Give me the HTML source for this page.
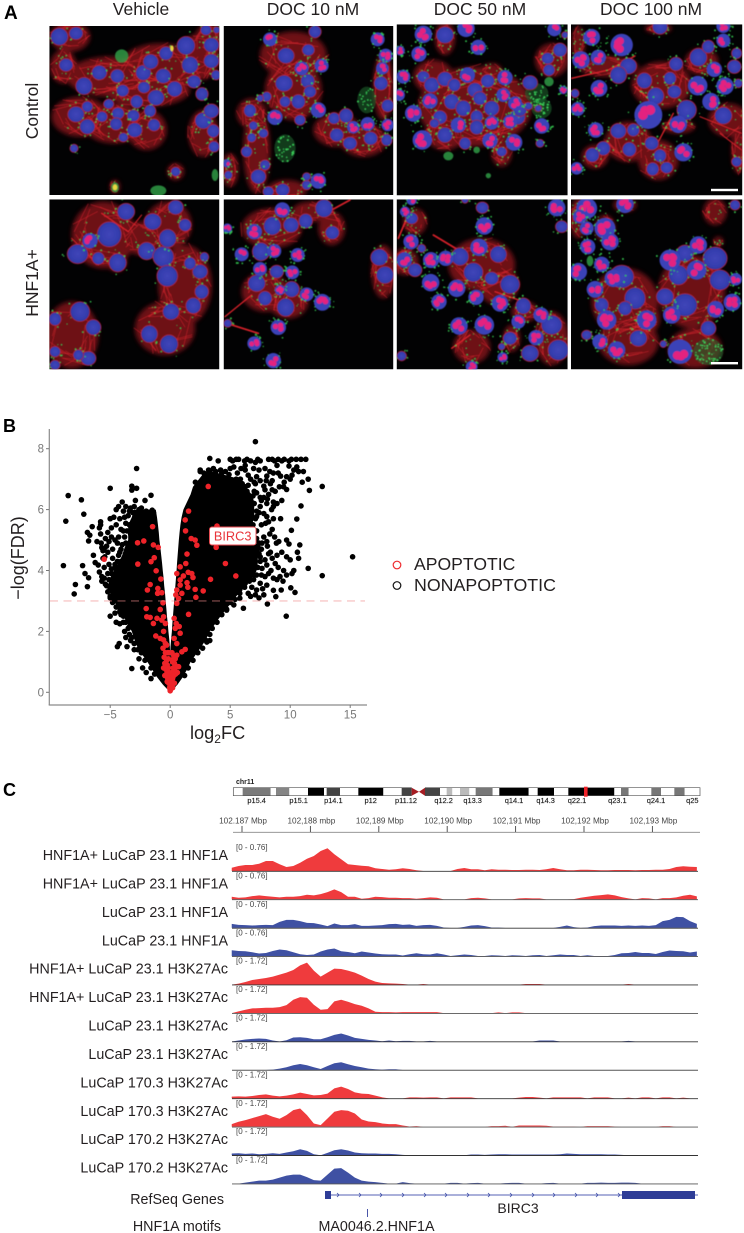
<!DOCTYPE html>
<html lang="en">
<head>
<meta charset="utf-8">
<title>HNF1A micrographs, volcano plot and genome tracks</title>
<style>
html,body{margin:0;padding:0;background:#fff;}
svg{display:block;font-family:"Liberation Sans",Arial,sans-serif;}
</style>
</head>
<body>
<svg id="fig" xmlns="http://www.w3.org/2000/svg" width="744" height="1233" viewBox="0 0 744 1233">
  <defs>
    <filter id="blurCyto" x="-30%" y="-30%" width="160%" height="160%"><feGaussianBlur stdDeviation="7"/></filter>
    <filter id="blurSoft" x="-5%" y="-5%" width="110%" height="110%"><feGaussianBlur stdDeviation="1.5"/></filter>
    <radialGradient id="nucleusFill"><stop offset="0" stop-color="#4045b8"/><stop offset="0.75" stop-color="#343dae"/><stop offset="1" stop-color="#2c3498"/></radialGradient>
  </defs>

  <text x="4" y="19" font-size="19" font-weight="bold" fill="#000">A</text>
  <text x="141" y="15" font-size="17.5" text-anchor="middle" fill="#231f20">Vehicle</text>
  <text x="313" y="15" font-size="17.5" text-anchor="middle" fill="#231f20">DOC 10 nM</text>
  <text x="480" y="15" font-size="17.5" text-anchor="middle" fill="#231f20">DOC 50 nM</text>
  <text x="651" y="15" font-size="17.5" text-anchor="middle" fill="#231f20">DOC 100 nM</text>
  <text transform="translate(38,111) rotate(-90)" font-size="17.5" text-anchor="middle" fill="#231f20">Control</text>
  <text transform="translate(38,283) rotate(-90)" font-size="17.5" text-anchor="middle" fill="#231f20">HNF1A+</text>
  <g id="micrographs"></g>

  <text x="3" y="432" font-size="18" font-weight="bold" fill="#000">B</text>
  <g id="volcano"></g>
  <text x="190" y="739" font-size="18.2" fill="#231f20">log<tspan font-size="12" dy="4">2</tspan><tspan dy="-4">FC</tspan></text>
  <text transform="translate(24,558) rotate(-90)" font-size="18" text-anchor="middle" fill="#231f20">&#8722;log(FDR)</text>
  <g>
    <circle cx="397" cy="565" r="3.8" fill="none" stroke="#ee2a2e" stroke-width="1.2"/>
    <text x="414" y="570" font-size="17.6" fill="#231f20">APOPTOTIC</text>
    <circle cx="397" cy="585.5" r="3.8" fill="none" stroke="#111" stroke-width="1.2"/>
    <text x="414" y="591" font-size="17.8" fill="#231f20">NONAPOPTOTIC</text>
  </g>

  <text x="3" y="796" font-size="18" font-weight="bold" fill="#000">C</text>
  <g id="ideogram"></g>
  <g id="ruler"></g>
  <g id="tracks"></g>
  <g>
    <text x="224" y="1204" font-size="14.3" text-anchor="end" fill="#231f20">RefSeq Genes</text>
    <line x1="325" y1="1195" x2="698" y2="1195" stroke="#5562b4" stroke-width="1"/>
    <rect x="325" y="1191" width="6" height="8" fill="#2e3d97"/>
    <rect x="622" y="1191" width="73" height="8" fill="#2e3d97"/>
    <g id="chevrons"></g>
    <text x="518" y="1213" font-size="14" text-anchor="middle" fill="#231f20">BIRC3</text>
  </g>
  <g>
    <text x="221" y="1231" font-size="14.3" text-anchor="end" fill="#231f20">HNF1A motifs</text>
    <line x1="367.5" y1="1209" x2="367.5" y2="1217" stroke="#4a55a8" stroke-width="1"/>
    <text x="376.5" y="1231" font-size="14.3" text-anchor="middle" fill="#231f20">MA0046.2.HNF1A</text>
  </g>
</svg>

<script>
/* ---------- Panel B chart values (log2FC, -log FDR) ---------- */
const xTickValues = [-5, 0, 5, 10, 15];
const yTickValues = [0, 2, 4, 6, 8];
const fdrThreshold = 3;

/* Saturated overplot core of the volcano: the log2FC limits of the solid black mass at each FDR level */
const leftLobeFdr   = [0,.25,.5,.75,1,1.25,1.5,1.75,2,2.25,2.5,2.75,3,3.25,3.5,3.75,4,4.25,4.5,4.75,5,5.25,5.5,5.75,6];
const leftLobeOuter = [0,-.6,-1.1,-1.5,-1.9,-2.35,-2.75,-3,-3.2,-3.55,-3.9,-4.3,-4.7,-5,-5.2,-5,-4.7,-4.3,-4,-3.8,-3.5,-3.5,-3.5,-3.2,-3];
const leftLobeInner = [0,0,0,0,0,0,-.03,-.08,-.15,-.2,-.27,-.32,-.38,-.43,-.5,-.55,-.62,-.68,-.75,-.82,-.9,-.95,-1.02,-1.1,-1.2];
const rightLobeFdr   = [0,.25,.5,.75,1,1.25,1.5,1.75,2,2.25,2.5,2.75,3,3.25,3.5,3.75,4,4.25,4.5,4.75,5,5.25,5.5,5.75,6,6.25,6.5,6.75,7,7.25];
const rightLobeOuter = [0,.6,1.05,1.4,1.7,2.15,2.6,3,3.3,3.75,4.2,4.7,5.2,5.7,6.2,6.8,7.2,7.3,7.3,7.2,7,6.8,6.8,7,7,7,6.8,6.2,5.8,3.5];
const rightLobeInner = [0,0,0,0,0,0,.03,.08,.14,.18,.23,.28,.33,.38,.43,.48,.53,.57,.62,.67,.72,.78,.85,.95,1.1,1.4,1.7,1.9,2.4,2.9];

const nonApoptoticLeft = [[-8.9,4.16],[-8.5,6.46],[-8.7,5.62],[-7.9,3.54],[-8,3.23],[-7.4,6.32],[-7.2,5.85],[-7.3,4.16],[-7.1,3.9],[-6.8,3.76],[-6.9,3.47],[-6.5,5.44],[-6.9,5.25],[-6.7,5.16],[-6.8,4.97],[-6.4,4.5],[-6.25,4.26],[-6,4.18],[-5.8,5.5],[-5.8,5.6],[-5.9,5.4],[-6.1,4.95],[-5.8,5.2],[-5.4,5.05],[-5.7,4.75],[-5.5,4.72],[-5.3,4.8],[-5.6,4.65],[-5.2,4.6],[-5.6,4.4],[-5.7,3.8],[-5.7,3.65],[-5.2,3.9],[-5.1,4.2],[-4.8,4.4],[-4.9,3.9],[-5.3,3.5],[-5,6.7],[-5,5.7],[-4.9,5.4],[-4.7,5.75],[-4.5,5.5],[-4.3,6.1],[-4,6.25],[-4.2,5.7],[-3.9,5.95],[-3.7,6.1],[-3.5,5.8],[-3.2,6.77],[-3.2,6.64],[-2.8,6.7],[-2.8,7.35],[-2.9,6.3],[-2.1,6.3],[-1.6,6.47],[-3.2,.78],[-5,2.5],[-4.4,1.5],[-4.25,1.6],[-3.6,1.5],[-3.7,1.8],[-3.8,2],[-4.2,2.25],[-4.6,2.6],[-4.3,2.8],[-4.1,2.55],[-3.4,1.9],[-4.9,5.1],[-4.6,5],[-4.4,4.9],[-4.2,4.6],[-4.6,4.2],[-4.5,3.7],[-5,3.4],[-4.7,3.3],[-4.4,3.1],[-4.2,3.4],[-4,2.9],[-4.4,3.9],[-3.4,5.5],[-3.1,5.9],[-2.6,6],[-2.3,5.9],[-3.3,5.2],[-2,5.95],[-1.5,5.98],[-1.4,5.9],[-4.8,2.95],[-4.5,2.3],[-3.3,1.7],[-3,1.4],[-2.6,1.1],[-2.3,.8],[-2,.65],[-1.6,.45],[-3.9,2.3],[-3.5,2.1],[-3.9,3.6],[-4.1,4.3],[-3.7,4.9],[-3.6,5.3],[-2.9,5.6],[-2.4,5.7],[-1.3,.6],[-1.6,.8],[-2.1,1.05],[-2.4,1.3],[-2.7,1.4],[-3,1.6],[-3.2,1.8],[-3.4,2.15],[-3.7,2.3],[-3.9,2.5],[-4.2,2.65],[-4.5,2.8],[-4.7,3],[-5,3.15],[-5.2,3.3],[-5.4,3.55],[-5.5,3.75],[-5.1,3.7],[-4.9,4.05],[-4.6,4.1],[-4.4,4.3],[-4.3,4.5],[-4.1,4.7],[-4,4.85],[-3.8,5.1],[-3.9,5.3],[-3.7,5.55],[-3.8,5.75],[-3.4,5.95],[-3.3,6.05],[-3,6.1],[-2.4,6.05],[-5,3.1],[-5.2,5.25],[-5.1,4.95],[-5.45,4.45],[-4.8,4.7],[-5.5,4.1],[-5.9,3.95],[-5.75,4.9],[-4.5,6],[-4.1,5.35],[-4.3,5.1]];
const nonApoptoticRight = [[7.1,8.23],[3.3,7.68],[5,7.65],[5.2,7.6],[5.5,7.65],[5.7,7.65],[6.2,7.6],[6.4,7.65],[6.7,7.6],[7.1,7.55],[7.3,7.65],[7.5,7.6],[8.2,7.65],[8.5,7.65],[8.7,7.6],[9,7.65],[9.3,7.6],[9.5,7.65],[9.9,7.6],[10.1,7.65],[10.5,7.65],[10.9,7.65],[11.3,7.65],[12.67,6.76],[12.67,3.83],[15.2,4.45],[9.67,2.5],[11.5,7],[11.6,6.63],[10.9,6.12],[10.55,5.69],[10.1,5.32],[11.5,4.07],[10.8,4.84],[10.7,4.4],[10.6,4.6],[9.9,4.87],[10.3,4],[10.05,3.43],[10.4,3.28],[9.25,3.36],[8.8,3.14],[8.1,2.9],[6.1,2.76],[5.3,2.87],[4.7,2.73],[5.8,3.09],[5.8,3.38],[5,7.35],[5.3,7.4],[6.25,7.45],[6.95,7.35],[7.4,7.3],[7.9,7.35],[8.3,7.25],[8.9,7.45],[9.9,7.43],[10.55,7.4],[10.7,7.25],[11.1,7.25],[10.15,7.13],[11,6.9],[9.7,7.08],[6.25,7.3],[6.5,7.13],[5.85,7],[7.2,7.08],[8.05,7.1],[8.35,6.85],[9.1,6.75],[9.45,6.75],[9.7,6.66],[7.1,6.85],[7.8,6.77],[7.9,6.65],[8.5,6.65],[8.75,6.6],[9.3,6.3],[7.8,6.4],[7.2,6.55],[6.5,6.4],[6.95,6.2],[7.5,6.1],[8.05,6.2],[8.6,6.25],[8.45,6],[8.05,5.77],[8.6,5.7],[7.8,5.87],[7.2,5.77],[7.95,5.55],[8.5,5.35],[7.8,5.1],[8.05,4.95],[9.05,4.95],[8.85,4.9],[7.65,4.9],[8.35,4.6],[7.2,4.67],[7.5,4.45],[8.2,4.55],[9.3,4.6],[9.7,4.45],[10,4.35],[8.75,4.23],[8.05,4.18],[7.65,4.07],[6.95,4],[6.7,3.9],[7.2,3.85],[7.9,3.8],[8.6,3.75],[9.15,3.8],[9.7,3.85],[10.15,3.9],[9.45,4],[6.95,3.7],[7.5,3.58],[8.05,3.52],[7.2,3.36],[7.8,3.2],[7.1,3.2],[6.5,3.25],[6.25,3.58],[2.5,7.3],[3.3,7.25],[4,7.6],[3.6,7.35],[3.2,7.2],[2.5,7.25],[2.1,6.9],[3.9,6.97],[4.45,6.8],[4.7,6.7],[5.3,6.8],[5,6.5],[5.7,6.65],[6.1,6.6],[6.25,6.75],[5.55,6.37],[6,6.2],[6.5,6.05],[5.55,6.1],[6.25,5.87],[5.85,5.7],[5.3,5.77],[6.65,5.6],[6.4,5.45],[6.95,5.33],[6.5,5.16],[7.2,5.3],[6.8,4.95],[7.2,5.05],[6.4,4.55],[6.8,4.45],[6.5,4.3],[6.1,4.1],[5.85,3.85],[6.25,3.8],[5.3,3.36],[4.7,3.14],[4.2,3],[3.9,2.7],[4,2.55],[3.6,2.37],[2.9,2.15],[2.5,2.05],[3.3,1.7],[3.05,1.65],[2.1,2],[2.3,1.6],[1.3,1.4],[4.4,2.95],[3.7,2.9],[3.2,2.5],[2.7,2.45],[2.4,6.6],[2.9,6.9],[3.3,6.85],[3.7,6.6],[4.2,6.5],[4.6,6.3],[5.1,6.2],[4.4,7],[4.9,7],[1.2,.55],[1.5,.8],[1.9,1.05],[2.3,1.3],[2.7,1.45],[3,1.7],[3.3,1.9],[3.5,2.1],[3.9,2.3],[4.3,2.55],[4.7,2.7],[5,2.95],[5.4,3.05],[5.8,3.25],[6.2,3.45],[6.6,3.65],[7,3.85],[7.3,4.1],[7.5,4.3],[7.4,4.55],[7.3,4.8],[7.1,5],[7,5.25],[6.9,5.5],[7.1,5.7],[7.2,5.95],[7,6.2],[6.9,6.45],[6.4,6.6],[6,6.85],[5.5,7],[4.9,7.15],[4.3,7.2],[3.8,7.25],[3.2,7.3],[2.8,7.2],[7.6,5.5],[7.4,5.9],[7.6,6.3],[8.2,6.5],[8.1,6.35],[8.6,6.1],[8.9,6.2],[8.2,5.6],[8.3,5.2],[8.7,5.1],[8.1,4.8],[8.5,4.4],[8.9,4.5],[9,4.1],[8.4,4],[8.2,3.9],[8.6,3.35],[7.7,3.4],[7.4,3.1],[8.9,3.7],[9.4,3.65],[7.6,3.85],[7.9,4.35],[7.4,4.9],[7.6,4.7],[6.8,3.45],[6.7,3.15],[9.7,5],[9.2,5.7],[9,7.2],[8.6,7.2],[8.5,6.95],[9.2,7.1],[8,6.95],[7.5,6.95],[7,6.9],[6.7,7],[6.5,6.8],[7,6.6],[7.5,6.4],[9.5,6.9],[10,7],[10.3,7.3],[5.6,7.2],[5.9,7.35],[4.6,7.25],[4.2,7.3]];

const apoptoticPoints = [[-5.5,4.37],[-2.72,4.91],[-2.2,4.97],[-1.47,5.44],[-1.4,4.84],[-1,4.76],[-2.7,4.21],[-1.6,4.29],[-1.33,4.42],[-1.17,3.99],[-.78,3.72],[-1.67,3.54],[-1.9,3.36],[-1.03,3.41],[-1.05,3.25],[-.7,3.27],[-.6,2.94],[-2,2.75],[-.83,2.72],[-1.95,2.48],[-1.67,2.46],[-1.4,2.26],[-1.1,2.43],[-.55,2.48],[-.7,2.37],[-.4,2.26],[-.55,2],[-1.2,1.85],[-.83,1.77],[-.55,1.72],[-.4,1.6],[-.6,1.45],[-.4,1.3],[-.5,1.15],[-.3,1.05],[-.45,.95],[-.25,.9],[-.35,.75],[-.15,.8],[-.3,.6],[-.1,.65],[-.2,.45],[-.05,.5],[-.12,.3],[0,.35],[-.05,.15],[.05,.2],[0,.05],[.12,.35],[.08,.5],[.2,.45],[.15,.65],[.3,.55],[.25,.8],[.4,.7],[.35,.95],[.55,.85],[.42,1.1],[.3,1.2],[-.15,1.1],[-.2,1.3],[1.53,5.95],[1.25,5.66],[1.28,5.3],[1.75,5.05],[2.08,5],[2.22,4.83],[3.17,6.76],[3.83,4.76],[3.9,5.46],[4.6,4.23],[5.47,3.82],[3.36,3.71],[1.4,4.54],[1.3,4.23],[.83,4.12],[1.5,3.94],[1.8,3.9],[.55,3.9],[1.1,3.82],[1.9,3.77],[.83,3.69],[.83,3.52],[1.4,3.6],[1.47,3.45],[2.08,3.38],[2.75,3.33],[2.14,3.12],[.55,3.36],[.47,3.2],[.97,3.25],[.7,3.08],[.55,2.92],[1.53,2.56],[.33,2.43],[.5,2.26],[.42,2.1],[.75,2.16],[.83,1.94],[.33,1.77],[.55,1.6],[.97,1.33],[1.25,1.41],[.55,1.22],[.28,1.1],[.7,.84],[.45,.6],[.2,1],[-.1,1.3],[-.3,1.55],[-.25,.35],[.2,.15],[.35,.3],[-.45,.55],[.6,.65],[-.55,.8],[.15,1.3]];

/* ---------- Panel C coverage values (signal height per 0.1 kb bin, from -0.15 kb to 6.65 kb relative to 102,187 kb) ---------- */
const track01 = [3.3,5,6,6,7.3,10,10,6.7,4,5, 8.3,12.3,15,20,22.7,16.7,11.7,6.7,6,5.3, 4.7,2.7,2,1.3,1.7,2.7,2,.7,0,0, 0,0,0,2,3,1.7,1.7,.7,1.7,1.3, 1.3,1,1,1.3,1.3,1,1.7,3,1.7,.7, .7,1.3,1.3,1,.7,.7,1,1,1,.7, 1,1,1.3,1.3,2,4,4.7,4.3,4];
const track02 = [2.7,1.7,2,3.3,4,3.3,2.7,2,2.7,2.7, 3.3,4.7,4,5.3,7.3,10,7.3,2.7,2.7,.7, 1.3,2.7,2.3,1.7,1.7,1.3,1.3,.7,1.3,2, 1.7,0,0,0,0,1.3,1.7,1,0,0, 0,0,1,1.3,1,1,0,0,0,0, .3,1.7,2.7,3.7,4.3,5,4,2.3,1,0, 1.3,1,0,1.3,1.3,2,3.7,4.7,3];
const track03 = [4,3,2.7,2.3,2.7,3,2.7,6,8,8, 6.7,5,4.7,3.3,1.7,4.3,2.7,2.7,3.7,2, 2,2.3,2.7,3.7,4,3,3.3,2,2.7,3, 2,.3,0,0,1,2.3,2.7,1.7,.3,.3, 0,0,0,0,0,0,0,0,1,2.3, .7,0,.3,1.7,2.3,2.3,2.3,2,2.3,2, 2.3,2,2.7,6.7,8,11,10.7,6.7,4];
const track04 = [6,5.3,5,4,2.7,3.3,5.3,6.7,6,4, 2,1.3,1.7,4.7,6.7,7.7,5,4.3,3,4.7, 3.7,2.7,2,1.7,1.7,.7,2,3,2,1.7, 3,1.7,.3,1,1.7,1.3,.3,.3,1,.7, .3,1,.7,.3,1,1.3,.3,1,1.7,1.3, 1.3,.3,1,.3,.3,.3,1.3,3,3.3,4.3, 3.3,3.3,2.3,4.3,5.7,5.3,5,3.7,4.7];
const track05 = [0,1,2.7,4.7,5.7,6.7,8,10,12,14.7, 19.3,22,14,8,12,16,15.7,14,12,9, 5.7,3,1.7,1.3,1,.7,0,0,.7,0, 0,0,0,0,0,0,0,0,0,0, 0,0,0,.7,.7,.7,0,0,0,0, 0,0,0,0,0,0,0,0,.7,0, 0,0,0,0,0,0,0,0,0];
const track06 = [0,1.7,3.3,4.7,5,5.3,5.3,6,8,13.3, 16,15.3,8.3,3.3,4,11.7,13.3,11.3,9,7.3, 4.7,1.3,1,1,.7,1,1,1,1,1, 1,0,0,0,0,0,0,0,0,.7, 0,.7,.7,0,0,0,0,0,0,0, 0,0,0,0,0,0,0,0,0,0, 0,0,0,0,0,0,0,0,0];
const track07 = [0,1,2,2.7,3,2.7,1,0,1.3,4, 4.3,3.7,2.3,2.3,4.3,6.7,8,6,3.7,2.7, 1.7,1,.3,1,.3,.7,.7,0,0,.7, 0,0,0,0,0,0,0,0,0,0, 0,0,0,0,0,1,1,1,0,0, 0,0,0,0,0,0,0,0,.7,0, 0,0,0,0,0,0,0,0,0];
const track08 = [0,0,0,0,0,0,.3,1.3,2.7,4.7, 6,4.7,2.7,1,4,6.7,7.7,5.7,4,2.7, 1.3,.7,.3,.7,.7,0,0,0,0,0, 0,0,0,0,0,0,0,0,0,0, 0,0,0,0,0,0,0,0,0,0, 0,0,0,0,0,0,0,0,0,0, 0,0,0,0,0,0,0,0,0];
const track09 = [1.7,2,1.7,2.3,3.3,4,2.7,2,2.7,4, 5.7,4.3,3,3.3,4.7,10,11.7,9.3,6,4.7, 4.3,2.7,1,0,0,0,1,1,.7,1, 1,0,1,1,1,1,0,0,0,0, 0,0,.7,1.3,1.3,.7,0,1,1,1, 1,1,0,1,1,1,0,0,.7,0, 1,1,0,1,1,0,.7,0,0];
const track10 = [2.7,5,6.7,8.7,10.7,12.7,10,8,11.7,16.7, 18.3,11.7,3.3,1.7,8.3,15,16.7,16,13.3,7.3, 5.3,4.7,3.3,2.7,2.7,1.3,.3,.7,0,0, 0,0,0,0,0,0,0,0,.7,.7, 1,0,1.3,1.3,1.3,1.3,1,.3,.3,.3, .3,0,.7,.7,.7,.7,.3,0,0,0, 0,0,0,.7,.7,0,0,0,0];
const track11 = [1.7,2,1.3,1.7,1,1.3,2,1.3,2.7,4, 6,4.3,1,0,2.3,5,6,4.7,2.7,2, 1.7,1.7,1.3,1.3,1,.3,0,0,0,0, 0,0,0,0,0,.7,.7,.3,.7,1, 1,.7,.7,.7,.7,.7,.7,.7,1,1.7, 1.3,1,1,1,1,.7,.7,.3,0,0, 0,0,0,0,0,0,0,0,0];
const track12 = [0,0,1,2,3,3,4,6,8,9, 9,6.5,3.5,3,9,15,15.5,11,6,3, 2,1.5,.7,0,0,1.5,.5,0,0,0, 0,0,.7,.7,0,.5,.7,0,0,0, .5,.7,.7,0,0,0,.5,.7,0,0, 0,0,.7,.7,1,.7,.7,1,1,.7, 0,0,0,0,0,0,0,0,0];
const trackValues = [track01,track02,track03,track04,track05,track06,track07,track08,track09,track10,track11,track12];
const trackNames = ["HNF1A+ LuCaP 23.1 HNF1A","HNF1A+ LuCaP 23.1 HNF1A","LuCaP 23.1 HNF1A","LuCaP 23.1 HNF1A","HNF1A+ LuCaP 23.1 H3K27Ac","HNF1A+ LuCaP 23.1 H3K27Ac","LuCaP 23.1 H3K27Ac","LuCaP 23.1 H3K27Ac","LuCaP 170.3 H3K27Ac","LuCaP 170.3 H3K27Ac","LuCaP 170.2 H3K27Ac","LuCaP 170.2 H3K27Ac"];
const trackColors = ["red","red","blue","blue","red","red","blue","blue","red","red","blue","blue"];
const trackRanges = ["[0 - 0.76]","[0 - 0.76]","[0 - 0.76]","[0 - 0.76]","[0 - 1.72]","[0 - 1.72]","[0 - 1.72]","[0 - 1.72]","[0 - 1.72]","[0 - 1.72]","[0 - 1.72]","[0 - 1.72]"];
const rulerKb = [187,188,189,190,191,192,193];
const rulerLabels = ["102.187 Mbp","102,188 mbp","102,189 Mbp","102,190 Mbp","102,191 Mbp","102,192 Mbp","102,193 Mbp"];
const bandLabels = ["p15.4","p15.1","p14.1","p12","p11.12","q12.2","q13.3","q14.1","q14.3","q22.1","q23.1","q24.1","q25"];
const bandLabelSites = [110,236,340,452,558,671,758,882,977,1071,1192,1308,1417];
const bandStops = [[40,68,"#fff"],[68,152,"#7a7a7a"],[152,168,"#fff"],[168,208,"#858585"],[208,264,"#fff"],[264,312,"#000"],[312,320,"#fff"],[320,360,"#444"],[360,415,"#fff"],[415,490,"#000"],[490,545,"#fff"],[545,575,"#444"],[615,660,"#444"],[660,680,"#fff"],[680,697,"#bbb"],[697,720,"#fff"],[720,748,"#bbb"],[748,767,"#fff"],[767,818,"#777"],[818,838,"#fff"],[838,926,"#000"],[926,953,"#fff"],[953,1002,"#000"],[1002,1045,"#fff"],[1045,1183,"#000"],[1183,1203,"#fff"],[1203,1226,"#777"],[1226,1294,"#fff"],[1294,1323,"#777"],[1323,1363,"#fff"],[1363,1394,"#777"],[1394,1440,"#fff"]];

const SVGNS = "http://www.w3.org/2000/svg";
function make(parent, tag, attrs, text) {
  const el = document.createElementNS(SVGNS, tag);
  for (const k in attrs) el.setAttribute(k, attrs[k]);
  if (text !== undefined) el.textContent = text;
  parent.appendChild(el);
  return el;
}

/* ---------- Volcano plot ---------- */
const volcano = document.getElementById("volcano");
const xAxis = v => 170.2 + v * 12;
const yAxis = v => 692.3 - v * 30.45;

const lobes = [[leftLobeFdr, leftLobeOuter, leftLobeInner], [rightLobeFdr, rightLobeOuter, rightLobeInner]];
lobes.forEach(function (lobe) {
  const fwd = lobe[0].map((f, i) => xAxis(lobe[1][i]) + "," + yAxis(f));
  const back = lobe[0].map((f, i) => xAxis(lobe[2][i]) + "," + yAxis(f)).reverse();
  const poly = make(volcano, "polygon", {points: fwd.concat(back).join(" "), fill: "#000"});
  
  
});
nonApoptoticLeft.concat(nonApoptoticRight).forEach(function (p) {
  const c = make(volcano, "circle", {cx: xAxis(p[0]), cy: yAxis(p[1]), r: 2.8, fill: "#000"});
  
  
});
apoptoticPoints.forEach(function (p) {
  const c = make(volcano, "circle", {cx: xAxis(p[0]), cy: yAxis(p[1]), r: 2.8, fill: "#ee2329"});
  
  
});
const thresholdLine = make(volcano, "line", {x1: 50, x2: 365, y1: yAxis(fdrThreshold), y2: yAxis(fdrThreshold), stroke: "#f08a8a", "stroke-opacity": 0.4, "stroke-width": 1.6, "stroke-dasharray": "8 5.5"});


const yAxisLine = make(volcano, "line", {x1: 49.3, x2: 49.3, y1: 429, y2: 705, stroke: "#8a8a8a", "stroke-width": 1.2});


const xAxisLine = make(volcano, "line", {x1: 48.7, x2: 367, y1: 705, y2: 705, stroke: "#8a8a8a", "stroke-width": 1.2});


xTickValues.forEach(function (v) {
  const t = make(volcano, "line", {x1: xAxis(v), x2: xAxis(v), y1: 705, y2: 708, stroke: "#777", "stroke-width": 1});
  
  
  const l = make(volcano, "text", {x: xAxis(v), y: 718.3, "font-size": 11.5, "text-anchor": "middle", fill: "#777"}, v < 0 ? "\u2212" + Math.abs(v) : String(v));
  
  
});
yTickValues.forEach(function (v) {
  const t = make(volcano, "line", {x1: 46, x2: 49, y1: yAxis(v), y2: yAxis(v), stroke: "#777", "stroke-width": 1});
  
  
  const l = make(volcano, "text", {x: 44, y: yAxis(v) + 4, "font-size": 11.5, "text-anchor": "end", fill: "#777"}, String(v));
  
  
});
const birc3Box = make(volcano, "rect", {x: 209.5, y: 527, width: 46.5, height: 18, rx: 2.5, fill: "#fff", stroke: "#ee4a50", "stroke-width": 0.9});


const birc3Text = make(volcano, "text", {x: 232.7, y: 540.5, "font-size": 12.8, "text-anchor": "middle", fill: "#e8343a"}, "BIRC3");



/* ---------- Ideogram ---------- */
const ideogram = document.getElementById("ideogram");
const zx = z => 220 + z / 3;
const chrName = make(ideogram, "text", {x: 236, y: 784, "font-size": 7, "font-weight": "bold", fill: "#222"}, "chr11");


bandStops.forEach(function (b) {
  const r = make(ideogram, "rect", {x: zx(b[0]), y: 787.7, width: (b[1] - b[0]) / 3, height: 8, fill: b[2]});
  
  
});
const cenLeft = make(ideogram, "polygon", {points: zx(575) + ",787.7 " + zx(597) + ",791.7 " + zx(575) + ",795.7", fill: "#a51c22"});


const cenRight = make(ideogram, "polygon", {points: zx(615) + ",787.7 " + zx(597) + ",791.7 " + zx(615) + ",795.7", fill: "#a51c22"});


const chrOutlineTop = make(ideogram, "path", {d: "M" + zx(575) + " 787.7H" + zx(40) + "V795.7H" + zx(575) + "M" + zx(615) + " 787.7H" + zx(1440) + "V795.7H" + zx(615), fill: "none", stroke: "#555", "stroke-width": 0.7});


const locus = make(ideogram, "rect", {x: zx(1092), y: 786.7, width: 3.6, height: 10, fill: "#ee2329"});


bandLabels.forEach(function (name, i) {
  const t = make(ideogram, "text", {x: zx(bandLabelSites[i]), y: 803, "font-size": 7.4, "text-anchor": "middle", fill: "#222", "stroke": "#222", "stroke-width": 0.15}, name);
  
  
});

/* ---------- Genomic ruler and coverage tracks ---------- */
const ruler = document.getElementById("ruler");
const genomeX = kb => 242 + (kb - 187) * 68.4;
const rulerLine = make(ruler, "line", {x1: 233, x2: 700, y1: 832.3, y2: 832.3, stroke: "#888", "stroke-width": 0.9});


rulerKb.forEach(function (kb, i) {
  const tick = make(ruler, "line", {x1: genomeX(kb), x2: genomeX(kb), y1: 826, y2: 832, stroke: "#444", "stroke-width": 0.9});
  
  
  const lab = make(ruler, "text", {x: genomeX(kb) + 1, y: 823.5, "font-size": 8.2, "text-anchor": "middle", fill: "#444"}, rulerLabels[i]);
  
  
});

const tracks = document.getElementById("tracks");
const trackHex = {red: "#ef3b3d", blue: "#3f51a3"};
trackValues.forEach(function (values, t) {
  const base = 871 + t * 28.42;
  const pts = [genomeX(186.85) + "," + base];
  values.forEach(function (v, i) {
    pts.push(genomeX(186.85 + i * 0.1) + "," + (base - v));
  });
  pts.push(genomeX(186.85 + (values.length - 1) * 0.1) + "," + base);
  const lab = make(tracks, "text", {x: 228, y: base - 11, "font-size": 14.3, "text-anchor": "end", fill: "#231f20"}, trackNames[t]);
  
  
  const range = make(tracks, "text", {x: 236, y: base - 21, "font-size": 8, fill: "#444"}, trackRanges[t]);
  
  
  const area = make(tracks, "polygon", {points: pts.join(" "), fill: trackHex[trackColors[t]]});
  
  
  const line = make(tracks, "line", {x1: 232, x2: 698, y1: base + 0.3, y2: base + 0.3, stroke: t % 2 ? "#555" : "#333", "stroke-width": 0.9});
  
  
});

const chevrons = document.getElementById("chevrons");
const chevronStarts = [338,360,381,403,425,446,468,489,511,533,554,576,597,619];
chevronStarts.forEach(function (x) {
  const c = make(chevrons, "path", {d: "M" + (x - 1) + " 1193L" + (x + 1) + " 1195L" + (x - 1) + " 1197", fill: "none", stroke: "#3f4fa8", "stroke-width": 0.8});
  
  
});

/* ---------- Panel A: illustrative micrograph reconstructions (not chart data) ---------- */
const micrographs = [
 {name:"control-vehicle",ox:0,oy:0,rect:[148,78,658,585],
  c:[[210,110,60,45],[190,200,40,50],[330,230,130,60],[480,200,120,70],[600,170,60,70],[440,270,130,50],[240,350,85,60],[340,370,90,60],[440,390,60,60],[610,400,45,70],[625,120,40,50],[527,515,25,25],[345,560,15,20]],
  n:[[178,110,25],[228,100,20],[198,195,20],[298,218,22],[252,258,24],[352,228,20],[368,272,18],[430,218,22],[452,185,22],[490,228,22],[432,262,18],[524,267,22],[468,293,24],[410,305,18],[582,245,20],[606,282,18],[558,137,26],[634,135,22],[634,183,22],[570,195,24],[498,160,20],[648,225,14],[228,343,24],[262,320,16],[306,350,16],[326,312,15],[354,340,18],[400,347,18],[450,333,17],[348,372,18],[262,380,22],[404,390,22],[462,375,18],[370,412,14],[610,362,24],[634,333,22],[640,393,18],[642,440,16],[527,515,14],[222,445,12],[618,90,16],[650,90,10]],
  p:[],g:[[365,168,20,20],[475,572,24,16],[645,525,10,18],[345,562,12,15]],y:[[516,145,5,9],[345,562,7,9]],f:[],s:[]},
 {name:"control-doc-10",ox:0,oy:0,rect:[671,78,1180,585],
  c:[[880,165,100,70],[880,270,85,90],[755,340,45,45],[770,450,40,130],[1010,390,70,50],[1090,420,70,50],[860,570,60,30],[690,510,25,50],[1150,260,30,100]],
  n:[[858,167,24],[925,150,18],[945,95,18],[852,250,25],[923,243,20],[930,275,18],[895,305,20],[855,305,16],[900,360,16],[1002,355,17],[1038,347,20],[1010,405,20],[1050,430,20],[1112,415,20],[1160,420,16],[1143,250,20],[1163,317,18],[750,332,18],[760,377,13],[790,400,14],[755,413,13],[740,455,16],[795,495,15],[775,530,22],[805,575,16],[848,570,20],[800,290,14],[780,295,10],[685,525,12],[920,555,14],[920,530,12]],
  p:[[810,118,20],[905,205,20],[965,197,20],[1133,118,20],[1157,167,20],[1147,205,18],[955,330,22],[825,352,22],[1060,382,18],[1103,372,20],[1163,375,18],[955,543,22],[680,490,12]],
  g:[],y:[],f:[],s:[[855,445,32,42,28],[1100,300,28,40,22]]},
 {name:"control-doc-50",ox:395,oy:20,rect:[5,13,518,526],
  c:[[150,55,30,50],[115,170,60,50],[240,260,170,120],[150,340,60,50],[320,400,30,40],[470,120,50,50],[290,150,30,20]],
  n:[[150,45,25],[85,170,18],[110,195,22],[150,177,22],[178,195,18],[170,245,22],[240,210,22],[278,183,20],[205,265,22],[255,235,20],[290,265,22],[245,290,18],[135,292,20],[118,310,14],[245,322,20],[368,290,22],[375,268,20],[210,370,17],[150,345,22],[320,395,15],[405,188,22],[458,115,18],[495,90,20],[462,150,17],[435,370,12],[400,258,12],[430,265,10],[510,45,10]],
  p:[[85,43,25],[213,25,25],[478,28,20],[250,82,22],[72,102,22],[15,92,14],[25,170,20],[12,225,17],[217,165,22],[330,173,22],[105,243,22],[325,225,20],[55,280,24],[190,315,22],[290,308,20],[345,305,20],[360,250,20],[82,360,28],[285,362,22],[357,367,24],[505,210,12],[440,318,22]],
  g:[[462,185,14,14],[160,408,15,13],[245,390,10,10],[280,467,8,8]],y:[],f:[],s:[[425,220,35,30,30],[440,265,30,30,25]]},
 {name:"control-doc-100",ox:395,oy:20,rect:[528,13,1042,526],
  c:[[640,140,90,30],[800,195,90,70],[920,125,50,40],[1000,300,60,50],[700,365,70,60],[790,420,60,60],[600,410,40,35],[1030,390,20,70],[790,25,40,15],[550,70,20,50],[850,320,50,20]],
  n:[[700,138,24],[670,165,24],[748,182,22],[825,175,18],[843,132,20],[782,228,24],[838,215,20],[875,270,28],[910,112,25],[940,80,18],[1025,100,15],[1018,140,20],[1030,190,12],[985,287,25],[670,333,23],[715,330,18],[703,388,20],[770,370,20],[795,407,18],[773,447,18],[815,443,18],[625,385,20],[592,405,20],[795,20,22],[1025,425,15],[540,220,12]],
  p:[[590,52,24],[680,75,32],[558,120,25],[610,112,22],[612,205,24],[908,197,28],[958,148,22],[990,198,25],[948,245,25],[548,267,20],[760,285,40],[850,313,25],[602,330,22],[865,397,26],[545,445,18],[985,18,20],[985,62,20]],
  g:[],y:[],f:[[530,175,640,150,4],[640,150,720,108,4],[720,200,775,250,5],[790,365,835,280,4],[915,290,1040,340,3],[975,340,1040,390,3]],s:[]},
 {name:"hnf1a-vehicle",ox:45,oy:195,rect:[13,13,523,523],
  c:[[175,120,95,100],[290,130,60,50],[370,90,70,70],[420,270,80,120],[360,400,90,80],[80,420,80,100],[215,200,30,30]],
  n:[[243,50,25],[392,37,22],[323,80,25],[420,90,18],[193,118,35],[98,177,30],[160,190,18],[218,203,25],[305,168,25],[355,185,30],[368,130,25],[478,186,13],[367,243,30],[465,230,22],[435,205,17],[470,290,20],[445,332,22],[378,350,24],[313,417,24],[372,447,26],[105,350,28],[30,372,18],[145,397,22],[30,470,16],[130,490,22],[100,480,15],[30,510,15]],
  p:[[135,137,22]],g:[],y:[],f:[[170,55,250,110,4],[250,110,290,60,3],[80,130,160,210,3]],s:[]},
 {name:"hnf1a-doc-10",ox:45,oy:195,rect:[536,13,1045,523],
  c:[[680,100,90,60],[860,100,40,50],[660,290,70,60],[730,320,60,50],[1015,230,35,80],[800,50,60,30]],
  n:[[682,93,25],[738,90,22],[782,78,20],[837,40,25],[862,113,20],[648,170,25],[635,265,25],[695,230,20],[740,283,22],[722,337,25],[660,310,20],[1003,187,25],[1020,240,25],[548,385,12]],
  p:[[712,45,22],[628,110,22],[547,100,14],[590,178,20],[688,168,20],[758,180,20],[645,222,20],[742,232,20],[785,298,20],[832,322,24],[700,397,22],[628,445,20],[685,497,22],[705,285,15]],
  g:[],y:[],f:[[540,365,620,300,4],[545,385,640,415,5],[860,45,915,15,5]],s:[]},
 {name:"hnf1a-doc-50",ox:395,oy:195,rect:[5,13,518,523],
  c:[[60,80,35,40],[260,210,100,80],[310,270,60,60],[230,455,55,50],[390,350,40,30],[470,430,50,80],[30,200,40,40],[350,430,25,40]],
  n:[[195,185,25],[310,178,24],[235,232,28],[345,268,28],[290,250,20],[385,333,22],[345,430,20],[470,390,30],[405,475,25],[490,465,30],[60,225,20],[80,160,12],[262,38,18],[500,95,18],[20,483,14],[320,455,10],[210,14,10],[50,70,18]],
  p:[[48,140,22],[28,195,22],[108,195,23],[152,190,22],[252,157,25],[107,263,25],[185,280,25],[243,307,22],[132,320,22],[315,325,24],[192,393,25],[268,390,28],[370,380,20],[438,360,22],[423,428,22],[268,93,25],[485,38,25],[30,50,15],[50,15,15],[323,487,15],[230,515,17]],
  g:[],y:[],f:[[115,120,190,165,5],[10,130,35,70,5],[300,290,385,320,4],[170,460,225,420,4]],s:[]},
 {name:"hnf1a-doc-100",ox:395,oy:195,rect:[528,13,1042,523],
  c:[[690,320,100,100],[700,440,90,70],[890,290,100,110],[900,460,80,60],[630,100,30,40],[690,30,35,20],[960,50,35,40],[970,140,15,15],[550,70,25,60],[750,370,45,50]],
  n:[[870,175,25],[960,190,35],[850,240,28],[975,255,30],[680,245,35],[720,310,30],[870,330,35],[810,305,25],[620,330,20],[940,400,22],[730,430,25],[1020,30,15],[575,420,15],[805,447,10],[690,340,20]],
  p:[[575,40,30],[690,28,25],[555,65,20],[575,100,20],[630,100,30],[645,140,25],[578,155,22],[620,208,22],[550,230,25],[600,283,24],[655,250,25],[635,375,28],[615,440,22],[665,465,25],[855,470,35],[910,150,25],[1022,253,18],[1012,322,25],[962,343,24],[825,195,30],[905,225,28],[830,360,25],[755,375,28]],
  g:[[585,198,10,16]],y:[],f:[],s:[[940,470,45,40,50]]}
];

/* deterministic texture generator for the speckle in the micrographs */
let seed = 20240611;
function tex() { seed = (seed * 1664525 + 1013904223) % 4294967296; return seed / 4294967296; }

const grid = document.getElementById("micrographs");
micrographs.forEach(function (m, idx) {
  const R = m.rect;
  const clip = make(grid, "clipPath", {id: "clip" + idx});
  make(clip, "rect", {x: R[0], y: R[1], width: R[2] - R[0], height: R[3] - R[1]});
  const panel = make(grid, "g", {transform: "translate(" + m.ox + "," + m.oy + ") scale(0.33333)", "clip-path": "url(#clip" + idx + ")"});
  
  
  make(panel, "rect", {x: R[0], y: R[1], width: R[2] - R[0], height: R[3] - R[1], fill: "#020203"});

  const cyto = make(panel, "g", {filter: "url(#blurCyto)", opacity: 0.78});
  
  
  m.c.forEach(function (c) {
    make(cyto, "ellipse", {cx: c[0], cy: c[1], rx: c[2], ry: c[3], fill: "#8e141c"});
  });

  const soft = make(panel, "g", {filter: "url(#blurSoft)"});
  
  
  m.f.forEach(function (f) {
    make(soft, "line", {x1: f[0], y1: f[1], x2: f[2], y2: f[3], stroke: "#d9242c", "stroke-width": f[4], "stroke-linecap": "round"});
  });
  m.c.forEach(function (c) {
    const fibers = Math.round(6 + (c[2] + c[3]) / 12);
    for (let i = 0; i < fibers; i++) {
      const a = tex() * 6.283, b = a + 0.5 + tex();
      const x1 = c[0] + Math.cos(a) * c[2] * (.5 + tex() * .6), y1 = c[1] + Math.sin(a) * c[3] * (.5 + tex() * .6);
      const x2 = c[0] + Math.cos(b) * c[2] * (.5 + tex() * .6), y2 = c[1] + Math.sin(b) * c[3] * (.5 + tex() * .6);
      make(soft, "line", {x1: x1, y1: y1, x2: x2, y2: y2, stroke: "#dc2630", "stroke-width": 2.5, "stroke-opacity": .55});
    }
    for (let i = 0; i < 6; i++) {
      const a = tex() * 6.283, d = .3 + tex() * .65;
      make(soft, "circle", {cx: c[0] + Math.cos(a) * c[2] * d, cy: c[1] + Math.sin(a) * c[3] * d, r: 1.6 + tex() * 1.2, fill: "#38c552"});
    }
  });
  m.g.forEach(function (g) {
    make(soft, "ellipse", {cx: g[0], cy: g[1], rx: g[2], ry: g[3], fill: "#2f9a45", opacity: .85});
  });
  m.s.forEach(function (s) {
    make(soft, "ellipse", {cx: s[0], cy: s[1], rx: s[2], ry: s[3], fill: "#1c6a2f", opacity: .55});
    for (let i = 0; i < s[4]; i++) {
      const a = tex() * 6.283, d = Math.sqrt(tex());
      make(soft, "circle", {cx: s[0] + Math.cos(a) * s[2] * d, cy: s[1] + Math.sin(a) * s[3] * d, r: 1.8 + tex() * 1.6, fill: "#3bd05a"});
    }
  });
  m.n.forEach(function (n) {
    const e = make(soft, "ellipse", {cx: n[0], cy: n[1], rx: n[2] * 1.05, ry: n[2] * (.97 + tex() * .14), fill: "url(#nucleusFill)", stroke: "#c61f28", "stroke-width": 3, "stroke-opacity": .6});
    
    
    for (let i = 0; i < 4; i++) {
      const a = tex() * 6.283, d = n[2] * (1.05 + tex() * .6);
      make(soft, "circle", {cx: n[0] + Math.cos(a) * d, cy: n[1] + Math.sin(a) * d, r: 1.6 + tex() * 1.4, fill: "#37c550"});
    }
  });
  m.p.forEach(function (p) {
    const e = make(soft, "circle", {cx: p[0], cy: p[1], r: p[2] * 1.05, fill: "#3a42b8"});
    
    
    for (let i = 0; i < 4; i++) {
      const a = tex() * 6.283, d = p[2] * .4;
      make(soft, "circle", {cx: p[0] + Math.cos(a) * d, cy: p[1] + Math.sin(a) * d, r: p[2] * .36, fill: "#e3207f"});
    }
    for (let i = 0; i < 9; i++) {
      const a = tex() * 6.283, d = p[2] * (1 + tex() * .55);
      make(soft, "circle", {cx: p[0] + Math.cos(a) * d, cy: p[1] + Math.sin(a) * d, r: 1.5 + tex() * 1.6, fill: "#32c04c"});
    }
  });
  m.y.forEach(function (y) {
    make(soft, "ellipse", {cx: y[0], cy: y[1], rx: y[2], ry: y[3], fill: "#e8d640"});
  });
});
const scaleBarTop = make(grid, "rect", {x: 711, y: 188.8, width: 27, height: 2.4, fill: "#fff"});


const scaleBarBottom = make(grid, "rect", {x: 711, y: 362, width: 27, height: 2.4, fill: "#fff"});


</script>
</body>
</html>
